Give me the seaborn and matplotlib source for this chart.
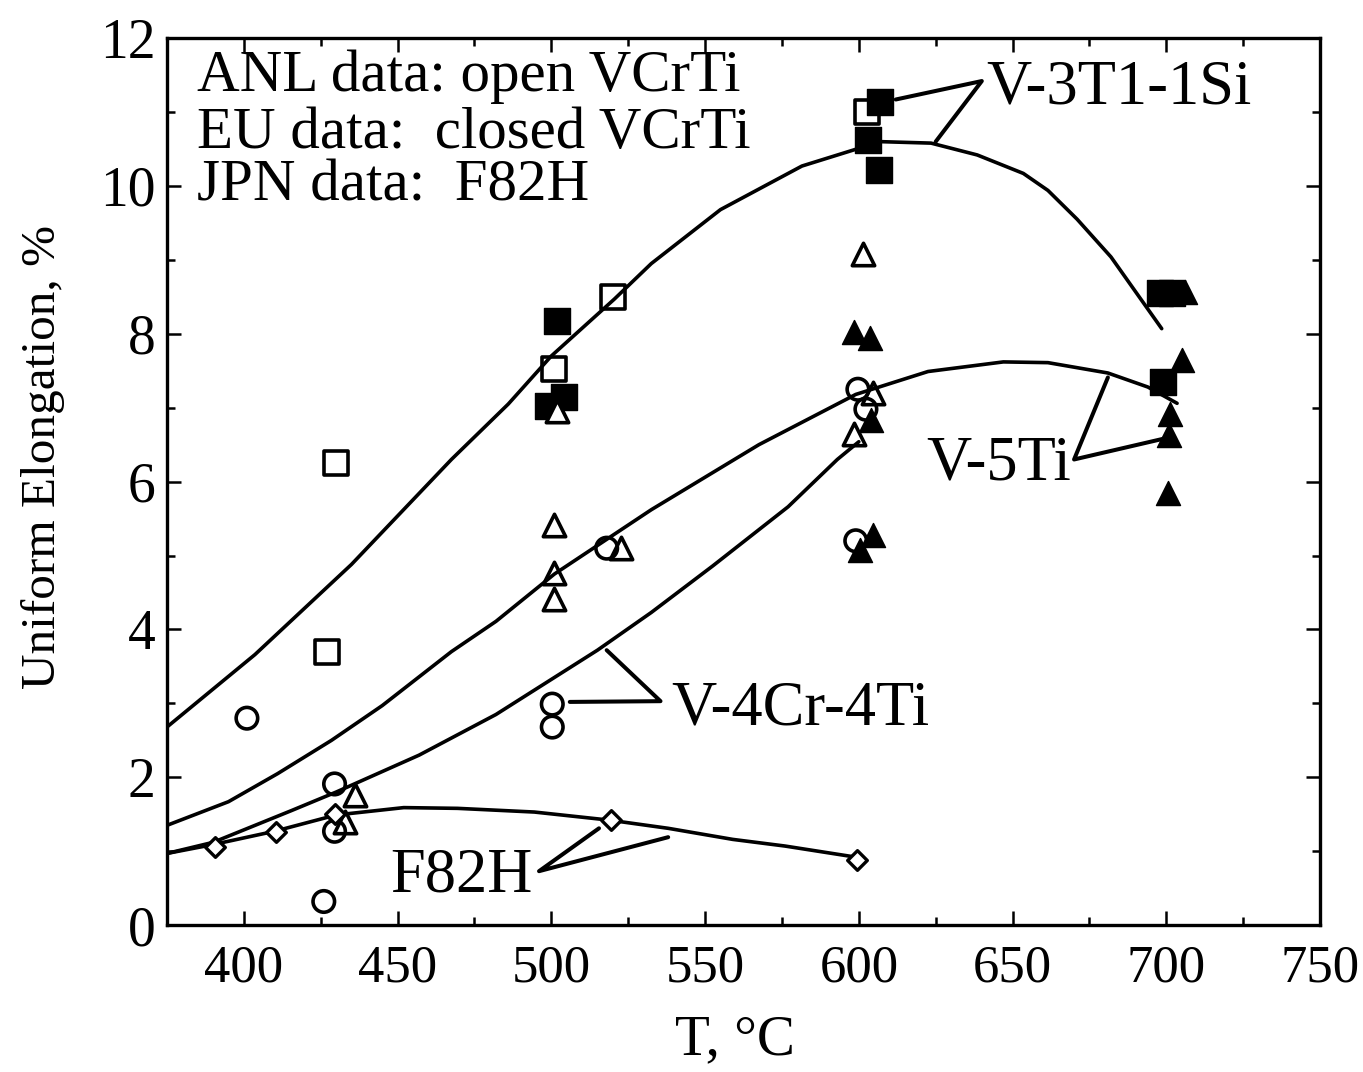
import matplotlib
matplotlib.use('Agg')
import matplotlib.pyplot as plt
import seaborn as sns
import pandas as pd
from matplotlib.ticker import MultipleLocator

sns.set_style("ticks")
plt.rcParams['font.family'] = ['Liberation Serif', 'DejaVu Serif']
for k in ['text.color', 'axes.labelcolor', 'xtick.color', 'ytick.color', 'axes.edgecolor']:
    plt.rcParams[k] = 'black'

# --- puntos medidos (T en °C, elongacion uniforme en %) ---
sq_open_T = [427, 430, 501, 520, 602.5]
sq_open_E = [3.7, 6.25, 7.52, 8.5, 11.0]
sq_fill_T = [499, 502, 504, 603, 606.5, 607, 698, 702, 699]
sq_fill_E = [7.03, 8.17, 7.15, 10.62, 10.22, 11.14, 8.55, 8.55, 7.35]
tri_open_T = [433, 436, 501, 501, 501, 502, 522.5, 598.5, 601.5, 604.5]
tri_open_E = [1.4, 1.76, 4.41, 4.76, 5.41, 6.96, 5.1, 6.64, 9.08, 7.2]
tri_fill_T = [598.5, 603.5, 604, 604.5, 600.5, 700.5, 701, 701.3, 705, 706]
tri_fill_E = [8.02, 7.95, 6.83, 5.28, 5.07, 5.84, 6.63, 6.92, 7.64, 8.56]
circ_T = [401, 426, 429.5, 429.5, 500.3, 500.3, 518, 599, 599.7, 602.3]
circ_E = [2.8, 0.32, 1.27, 1.91, 2.68, 2.99, 5.1, 5.2, 7.25, 6.98]
dia_T = [390.5, 410.5, 429.5, 519.5, 599.5]
dia_E = [1.06, 1.26, 1.5, 1.42, 0.88]

# --- curvas de ajuste ---
v3_T = [375, 403.6, 435, 467.5, 486, 500, 520.5, 532.5, 555, 581.5, 607,
        623.5, 638.5, 653.5, 661.5, 671, 682, 690.5, 698.5]
v3_E = [2.68, 3.66, 4.88, 6.30, 7.05, 7.70, 8.47, 8.95, 9.68, 10.27, 10.60,
        10.58, 10.42, 10.17, 9.94, 9.55, 9.04, 8.54, 8.07]
v5_T = [375, 395, 411, 428.5, 445, 467.5, 482, 501, 532.5, 567.5, 599,
        622.5, 647, 661.5, 681, 694, 703.5]
v5_E = [1.35, 1.67, 2.05, 2.50, 2.97, 3.70, 4.11, 4.75, 5.62, 6.50, 7.18,
        7.49, 7.62, 7.61, 7.47, 7.28, 7.06]
v4_T = [375, 390, 415.5, 430, 457, 482, 515, 532.5, 552.5, 577, 593, 600]
v4_E = [0.97, 1.12, 1.55, 1.80, 2.30, 2.85, 3.72, 4.23, 4.86, 5.66, 6.30, 6.54]
f82_T = [375, 390, 410, 430, 452, 469.5, 494.5, 519, 538, 559, 576, 597.5, 600]
f82_E = [0.97, 1.09, 1.27, 1.49, 1.59, 1.58, 1.53, 1.42, 1.31, 1.16, 1.07, 0.93, 0.88]

# etiquetas: (texto, x, y_base, ha, lineas guia T, lineas guia E)
labels = [
    ("V-3T1-1Si", 641.5, 11.11, 'left', [612, 640, 625], [11.17, 11.42, 10.6]),
    ("V-5Ti", 669, 6.03, 'right', [681, 670, 699], [7.41, 6.30, 6.58]),
    ("V-4Cr-4Ti", 539, 2.71, 'left', [518, 535.5, 506], [3.72, 3.03, 3.02]),
    ("F82H", 494, 0.46, 'right', [515.5, 496, 538], [1.31, 0.73, 1.19]),
]
info_lines = ["ANL data: open VCrTi", "EU data:  closed VCrTi", "JPN data:  F82H"]
info_y = [11.29, 10.52, 9.80]

fig = plt.figure(figsize=(13.63, 10.72), dpi=100)
ax = fig.add_axes([0.1225, 0.137, 0.846, 0.8274])

# curvas
for T, E in [(v3_T, v3_E), (v5_T, v5_E), (v4_T, v4_E), (f82_T, f82_E)]:
    sns.lineplot(x=T, y=E, sort=False, estimator=None, color='black',
                 linewidth=2.6, ax=ax, zorder=3)

# marcadores
sns.scatterplot(x=sq_open_T, y=sq_open_E, marker='s', s=300, color='white',
                edgecolor='black', linewidth=2.6, ax=ax, zorder=2)
sns.scatterplot(x=sq_fill_T, y=sq_fill_E, marker='s', s=330, color='black',
                edgecolor='black', linewidth=1, ax=ax, zorder=2)
sns.scatterplot(x=tri_open_T, y=tri_open_E, marker='^', s=260, color='white',
                edgecolor='black', linewidth=2.6, ax=ax, zorder=2)
sns.scatterplot(x=tri_fill_T, y=tri_fill_E, marker='^', s=300, color='black',
                edgecolor='black', linewidth=1, ax=ax, zorder=2)
sns.scatterplot(x=circ_T, y=circ_E, marker='o', s=240, color='none',
                edgecolor='black', linewidth=2.6, ax=ax, zorder=2)
sns.scatterplot(x=dia_T, y=dia_E, marker='D', s=100, color='white',
                edgecolor='black', linewidth=2.4, ax=ax, zorder=4)

# etiquetas con lineas guia
for txt, x, y, ha, lx, ly in labels:
    ax.plot(lx, ly, color='black', linewidth=2.9, zorder=3)
    ax.text(x, y, txt, ha=ha, va='baseline', fontsize=45)

for line, y in zip(info_lines, info_y):
    ax.text(384.7, y, line, ha='left', va='baseline', fontsize=42.5)

ax.set_xlim(375, 750)
ax.set_ylim(0, 12)
ax.xaxis.set_major_locator(MultipleLocator(50))
ax.xaxis.set_minor_locator(MultipleLocator(25))
ax.yaxis.set_major_locator(MultipleLocator(2))
ax.yaxis.set_minor_locator(MultipleLocator(1))
ax.tick_params(which='both', direction='in', top=True, right=True, width=1.8)
ax.tick_params(which='major', length=10)
ax.tick_params(which='minor', length=6)
ax.tick_params(axis='x', labelsize=38, pad=14)
ax.tick_params(axis='y', labelsize=40, pad=8)
for sp in ax.spines.values():
    sp.set_linewidth(2.4)

ax.set_xlabel("T, °C", fontsize=41)
ax.set_ylabel("Uniform Elongation, %", fontsize=35.5)
ax.xaxis.set_label_coords(0.4926, -0.1)
ax.yaxis.set_label_coords(-0.0885, 0.528)

fig.savefig("out.png", dpi=100)
